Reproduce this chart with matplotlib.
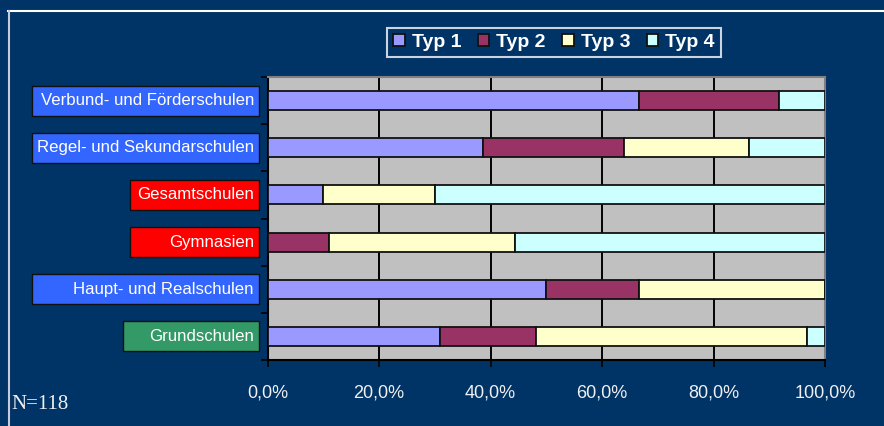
import numpy as np
import matplotlib
matplotlib.use("Agg")
import matplotlib.pyplot as plt
from matplotlib.patches import Rectangle
from matplotlib.lines import Line2D
from matplotlib.transforms import blended_transform_factory

# data, bottom to top
schools = ["Grundschulen", "Haupt- und Realschulen", "Gymnasien",
           "Gesamtschulen", "Regel- und Sekundarschulen", "Verbund- und Förderschulen"]
typ1 = [31.0, 50.0, 0.0, 10.0, 38.7, 66.7]
typ2 = [17.2, 16.7, 11.1, 0.0, 25.3, 25.0]
typ3 = [48.6, 33.3, 33.3, 20.0, 22.3, 0.0]
typ4 = [3.2, 0.0, 55.6, 70.0, 13.7, 8.3]
series_names = ["Typ 1", "Typ 2", "Typ 3", "Typ 4"]
ticks = [0, 20, 40, 60, 80, 100]
tick_labels = ["0,0%", "20,0%", "40,0%", "60,0%", "80,0%", "100,0%"]

bg = "#003366"
colors = ["#9999ff", "#993366", "#ffffcc", "#ccffff"]
box_colors = ["#339966", "#3366ff", "#ff0000", "#ff0000", "#3366ff", "#3366ff"]
box_left_px = [123, 32, 130, 130, 32, 32]

W, H = 884, 426
fig = plt.figure(figsize=(W / 100, H / 100), dpi=100, facecolor=bg)
ax = fig.add_axes([267.5 / W, 66 / H, (825 - 267.5) / W, (360 - 77) / H])
ax.set_facecolor("#c0c0c0")

y = np.arange(len(schools))
left = np.zeros(len(schools))
handles = []
for vals, c, name in zip([typ1, typ2, typ3, typ4], colors, series_names):
    vals = np.array(vals)
    b = ax.barh(y, vals, left=left, height=0.4, color=c, edgecolor="#111111",
                linewidth=1.3, label=name, zorder=3)
    handles.append(b)
    left += vals

ax.set_xlim(0, 100)
ax.set_ylim(-0.5, len(schools) - 0.5)
ax.set_xticks(ticks)
ax.set_xticklabels(tick_labels, color="#f0f0f0", fontsize=13, family="Liberation Sans")
ax.tick_params(axis="x", length=5, width=1.2, color="black", pad=13)
ax.set_yticks(np.arange(-0.5, len(schools), 1.0))
ax.set_yticklabels([])
ax.tick_params(axis="y", length=5, width=1.2, color="black")
ax.grid(True, axis="x", color="black", linewidth=1.4, zorder=0)
ax.set_axisbelow(True)
for s in ["top", "right"]:
    ax.spines[s].set_color("#808080")
    ax.spines[s].set_linewidth(1.5)
for s in ["left", "bottom"]:
    ax.spines[s].set_color("black")
    ax.spines[s].set_linewidth(1.5)

# category labels in colored boxes
tr = blended_transform_factory(fig.transFigure, ax.transData)
box_h = 30 / 47.2
for yi, name, c, lx in zip(y, schools, box_colors, box_left_px):
    rect = Rectangle((lx / W, yi - box_h / 2), (259 - lx) / W, box_h, transform=tr,
                     facecolor=c, edgecolor="#111111", linewidth=1.0, clip_on=False)
    fig.add_artist(rect)
    fig.text(254 / W, yi, name, transform=tr, ha="right", va="center",
             color="white", fontsize=12.1, family="Liberation Sans")

leg = fig.legend(handles=handles, labels=series_names, loc="center",
                 bbox_to_anchor=(554 / W, 1 - 42.5 / H), ncol=4, frameon=True,
                 fancybox=False, facecolor=bg, edgecolor="white",
                 prop={"family": "Liberation Sans", "weight": "bold", "size": 14},
                 handlelength=0.6, handleheight=0.6, handletextpad=0.35,
                 columnspacing=0.85, borderpad=0.3, labelcolor="white")
leg.get_frame().set_linewidth(1.5)

# outer frame lines
fig.add_artist(Line2D([8 / W, 1], [1 - 11 / H, 1 - 11 / H], color="white",
                      linewidth=1.5, transform=fig.transFigure))
fig.add_artist(Line2D([8.5 / W, 8.5 / W], [0, 1 - 11 / H], color="#c8ccd8",
                      linewidth=1.5, transform=fig.transFigure))

fig.text(11 / W, 1 - 409 / H, "N=118", color="#f0f0f0", fontsize=15,
         family="Liberation Serif", ha="left", va="baseline")

fig.savefig("out.png", dpi=100, facecolor=bg)
